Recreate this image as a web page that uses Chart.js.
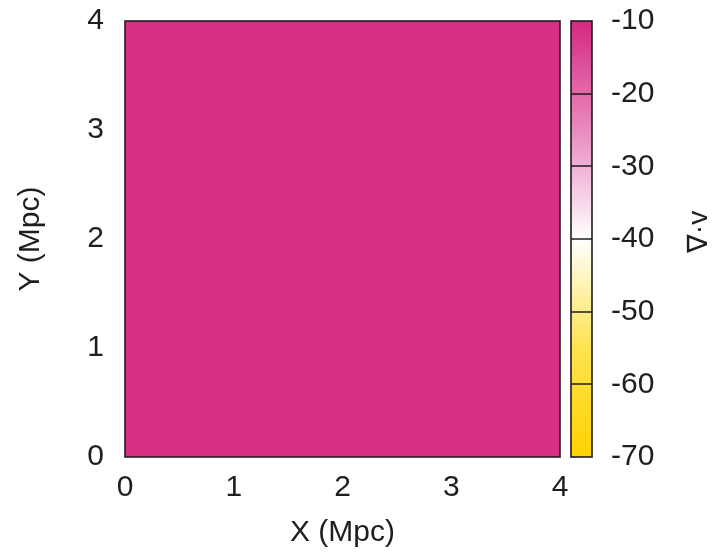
<!DOCTYPE html>
<html>
<head>
<meta charset="utf-8">
<script src="https://cdn.jsdelivr.net/npm/chart.js@4.4.1/dist/chart.umd.min.js"></script>
<style>
    html, body { margin: 0; padding: 0; background: #fff; }
    canvas { display: block; }
</style>
</head>
<body>
<canvas id="myCanvas" width="716" height="556"></canvas>
<script>
// grid cell centres (Mpc) and the divergence value in each cell
var xCenters = [0.5, 1.5, 2.5, 3.5];
var yCenters = [0.5, 1.5, 2.5, 3.5];
var divV = [
    [-11, -11, -11, -11],
    [-11, -11, -11, -11],
    [-11, -11, -11, -11],
    [-11, -11, -11, -11]
];

var xTicks = [0, 1, 2, 3, 4];
var yTicks = [0, 1, 2, 3, 4];
var cbTicks = [-70, -60, -50, -40, -30, -20, -10];

// palette: gold -> white -> magenta
var cbStops = [-70, -55, -40, -25, -10];
var cbColors = ["#ffd200", "#ffe34f", "#ffffff", "#e98ac0", "#d5287f"];

var FONT = "'Liberation Sans', Arial, sans-serif";
var TEXT = "#1e1e1e";

function hexToRgb(h) {
    return [parseInt(h.substr(1, 2), 16), parseInt(h.substr(3, 2), 16), parseInt(h.substr(5, 2), 16)];
}

function colorFor(v) {
    if (v <= cbStops[0]) return cbColors[0];
    for (var k = 1; k < cbStops.length; k++) {
        if (v <= cbStops[k]) {
            var t = (v - cbStops[k - 1]) / (cbStops[k] - cbStops[k - 1]);
            var a = hexToRgb(cbColors[k - 1]), b = hexToRgb(cbColors[k]);
            return "rgb(" + Math.round(a[0] + (b[0] - a[0]) * t) + "," +
                Math.round(a[1] + (b[1] - a[1]) * t) + "," +
                Math.round(a[2] + (b[2] - a[2]) * t) + ")";
        }
    }
    return cbColors[cbColors.length - 1];
}

function fixTicks(list) {
    return function (scale) {
        scale.ticks = list.map(function (v) { return { value: v }; });
    };
}

// force box sizes and drop the label padding chart.js adds around the chart area
function fitTo(w, h) {
    return function (s) {
        if (w) s.width = w;
        if (h) s.height = h;
        s.paddingTop = 0;
        s.paddingBottom = 0;
        s.paddingLeft = 0;
        s.paddingRight = 0;
    };
}

var heatmap = {
    id: "heatmap",
    beforeDatasetsDraw: function (chart) {
        var ctx = chart.ctx;
        var xs = chart.scales.x, ys = chart.scales.y;
        var w = xCenters[1] - xCenters[0];
        var h = yCenters[1] - yCenters[0];
        ctx.save();
        for (var j = 0; j < yCenters.length; j++) {
            for (var i = 0; i < xCenters.length; i++) {
                var x0 = Math.floor(xs.getPixelForValue(xCenters[i] - w / 2));
                var x1 = Math.ceil(xs.getPixelForValue(xCenters[i] + w / 2));
                var y0 = Math.floor(ys.getPixelForValue(yCenters[j] + h / 2));
                var y1 = Math.ceil(ys.getPixelForValue(yCenters[j] - h / 2));
                ctx.fillStyle = colorFor(divV[j][i]);
                ctx.fillRect(x0, y0, x1 - x0, y1 - y0);
            }
        }
        var a = chart.chartArea;
        ctx.strokeStyle = "#2a1a24";
        ctx.lineWidth = 1.6;
        ctx.strokeRect(a.left, a.top, a.right - a.left, a.bottom - a.top);
        ctx.restore();
    },
    afterDraw: function (chart) {
        var ctx = chart.ctx;
        var cb = chart.scales.cb;
        var a = chart.chartArea;
        var bx0 = a.right + 11, bx1 = a.right + 32;
        var top = cb.getPixelForValue(cbTicks[cbTicks.length - 1]);
        var bot = cb.getPixelForValue(cbTicks[0]);
        ctx.save();
        var g = ctx.createLinearGradient(0, bot, 0, top);
        for (var k = 0; k < cbStops.length; k++) {
            g.addColorStop((cbStops[k] - cbTicks[0]) / (cbTicks[cbTicks.length - 1] - cbTicks[0]), cbColors[k]);
        }
        ctx.fillStyle = g;
        ctx.fillRect(bx0, top, bx1 - bx0, bot - top);
        ctx.strokeStyle = "#221a1e";
        ctx.lineWidth = 1.5;
        for (var t = 1; t < cbTicks.length - 1; t++) {
            var py = Math.round(cb.getPixelForValue(cbTicks[t]));
            ctx.beginPath();
            ctx.moveTo(bx0, py);
            ctx.lineTo(bx1, py);
            ctx.stroke();
        }
        ctx.lineWidth = 1.6;
        ctx.strokeRect(bx0, top, bx1 - bx0, bot - top);

        // colour bar label, reading bottom to top
        ctx.translate(699, 232);
        ctx.rotate(-Math.PI / 2);
        ctx.fillStyle = TEXT;
        ctx.font = "28px " + FONT;
        ctx.textAlign = "center";
        ctx.textBaseline = "middle";
        ctx.fillText("\u2207\u00b7v", 0, 0);
        ctx.restore();
    }
};

new Chart(document.getElementById("myCanvas"), {
    type: "scatter",
    data: { datasets: [] },
    plugins: [heatmap],
    options: {
        responsive: false,
        devicePixelRatio: 1,
        animation: false,
        layout: { padding: { top: 21, left: 0, right: 0, bottom: 0 } },
        plugins: { legend: { display: false }, tooltip: { enabled: false } },
        scales: {
            x: {
                type: "linear",
                position: "bottom",
                min: 0,
                max: 4,
                afterBuildTicks: fixTicks(xTicks),
                afterFit: fitTo(0, 99),
                grid: { display: false, drawTicks: false },
                border: { display: false },
                ticks: { color: TEXT, font: { family: FONT, size: 30 }, padding: 13, maxRotation: 0 },
                title: { display: true, text: "X (Mpc)", color: TEXT, font: { family: FONT, size: 30 }, padding: { top: 0, bottom: 5 } }
            },
            y: {
                type: "linear",
                position: "left",
                min: 0,
                max: 4,
                afterBuildTicks: fixTicks(yTicks),
                afterFit: fitTo(125, 0),
                grid: { display: false, drawTicks: false },
                border: { display: false },
                ticks: { color: TEXT, font: { family: FONT, size: 30 }, padding: 21 },
                title: { display: true, text: "Y (Mpc)", color: TEXT, font: { family: FONT, size: 30 }, padding: { top: 13, bottom: 0 } }
            },
            cb: {
                type: "linear",
                position: "right",
                min: -70,
                max: -10,
                afterBuildTicks: fixTicks(cbTicks),
                afterFit: fitTo(156, 0),
                grid: { display: false, drawTicks: false },
                border: { display: false },
                ticks: { color: TEXT, font: { family: FONT, size: 30 }, padding: 51 }
            }
        }
    }
});
</script>
</body>
</html>
